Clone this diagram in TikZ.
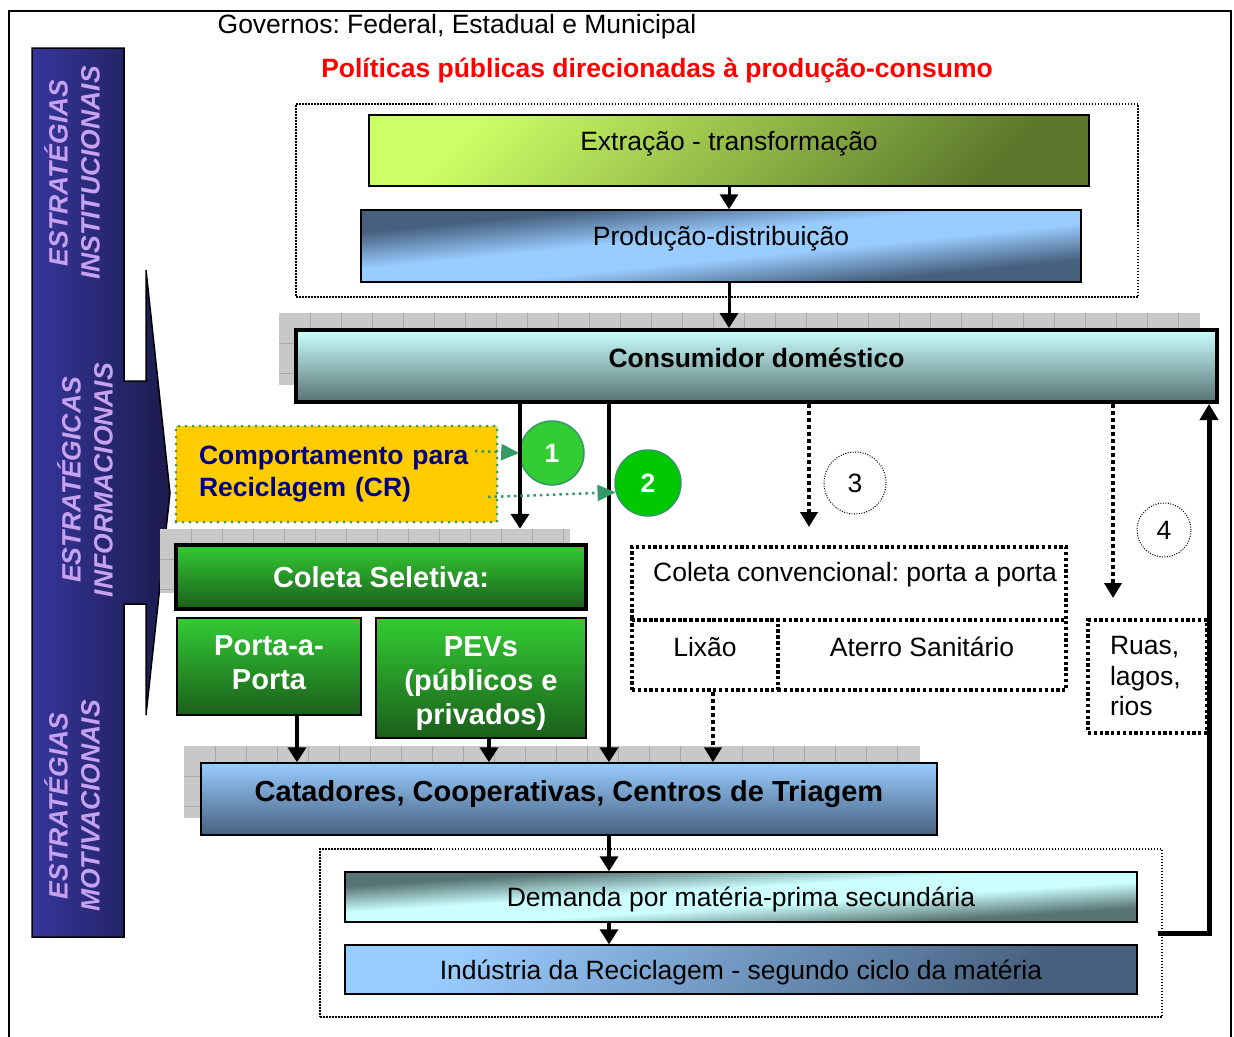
\documentclass[tikz,border=0pt]{standalone}
\usepackage{fontspec}
\setmainfont{Liberation Sans}
\usetikzlibrary{arrows.meta}
\frenchspacing

\definecolor{barLeft}{HTML}{36369C}
\definecolor{barRight}{HTML}{1B1B4C}
\definecolor{barText}{HTML}{C8A2F2}
\definecolor{limeLight}{HTML}{CCFF66}
\definecolor{limeDark}{HTML}{5C782C}
\definecolor{skyLight}{HTML}{99CCFF}
\definecolor{skyDark}{HTML}{47607E}
\definecolor{aquaLight}{HTML}{CCFFFF}
\definecolor{aquaDark}{HTML}{587373}
\definecolor{leafLight}{HTML}{33CC33}
\definecolor{leafDark}{HTML}{1B5E1B}
\definecolor{amber}{HTML}{FFCC00}
\definecolor{seaGreen}{HTML}{339966}
\definecolor{navyText}{HTML}{000080}
\definecolor{shadowFill}{HTML}{C8C8C8}
\definecolor{shadowLine}{HTML}{A8A8A8}
\definecolor{greenOne}{HTML}{33CC33}
\definecolor{greenTwo}{HTML}{00C800}

% dark corners with a broad light band between them
\pgfdeclareverticalshading{skyband}{100bp}{color(0bp)=(skyDark); color(31bp)=(skyDark);
  color(45bp)=(skyLight); color(55bp)=(skyLight); color(69bp)=(skyDark); color(100bp)=(skyDark)}
\pgfdeclareverticalshading{aquaband}{100bp}{color(0bp)=(aquaDark); color(31bp)=(aquaDark);
  color(45bp)=(aquaLight); color(55bp)=(aquaLight); color(69bp)=(aquaDark); color(100bp)=(aquaDark)}

\newcommand\regfont{\fontsize{26.5pt}{32pt}\selectfont}
\newcommand\bigbold{\fontsize{29pt}{34pt}\selectfont\bfseries}

\begin{document}
\begin{tikzpicture}[x=1pt,y=-1pt,
  every node/.style={font=\regfont, inner sep=2pt},
  panel/.style={draw=black, line width=1.4pt},
  thickpanel/.style={draw=black, line width=4pt},
  capline/.style={text height=19pt, text depth=#1},
  capline/.default=0pt,
  capbig/.style={text height=21pt, text depth=#1},
  capbig/.default=0pt,
  shadowbox/.style={fill=shadowFill, inner sep=0pt,
    path picture={
      \foreach \k in {1,...,40}
        \draw[shadowLine, line width=0.8pt]
          ([xshift={\k*31pt}]path picture bounding box.north west) --
          ([xshift={\k*31pt}]path picture bounding box.south west);
      \foreach \k in {1,2,3}
        \draw[shadowLine, line width=0.8pt]
          ([yshift={-\k*30pt}]path picture bounding box.north west) --
          ([yshift={-\k*30pt}]path picture bounding box.north east);
    }},
  conn/.style={line width=4pt, -{Triangle[width=18pt,length=15pt]}},
  dotconn/.style={line width=4pt, dash pattern=on 4pt off 3pt,
    -{Triangle[width=17pt,length=15pt]}},
  hintarrow/.style={seaGreen, line width=2.5pt, dash pattern=on 2.5pt off 4pt,
    -{Triangle[width=16pt,length=18pt]}},
  finebox/.style={draw=black, line width=1.5pt, dash pattern=on 1.5pt off 1.5pt},
  heavybox/.style={draw=black, line width=3.2pt, dash pattern=on 3.2pt off 2.6pt},
  sidelabel/.style={rotate=90, align=center, text=barText,
    font=\regfont\bfseries\itshape},
  numdisc/.style={circle, line width=1.5pt, draw=seaGreen, text=white,
    font=\regfont\bfseries, inner sep=0pt},
  numring/.style={circle, draw=black, line width=1pt,
    dash pattern=on 1pt off 1.5pt, inner sep=0pt}
]
\useasboundingbox (0,0) rectangle (1234,1036);

% outer frame
\draw[line width=1.5pt] (9,11) rectangle (1231,1070);

% strategy bar with its right-pointing block arrow
\draw[line width=1.5pt, left color=barLeft, right color=barRight]
  (32,48) -- (124,48) -- (124,381) -- (146,381) -- (146,270) -- (170,493)
  -- (146,715) -- (146,604) -- (124,604) -- (124,937) -- (32,937) -- cycle;
\node[sidelabel] (sl1) at (72,173) {ESTRATÉGIAS\\INSTITUCIONAIS};
\node[sidelabel] (sl2) at (85,480) {ESTRATÉGICAS\\INFORMACIONAIS};
\node[sidelabel] (sl3) at (72,806) {ESTRATÉGIAS\\MOTIVACIONAIS};

% headings
\node[capline] (gov) at (457,24) {Governos: Federal, Estadual e Municipal};
\node[capline, text=red, font=\regfont\bfseries] (pol) at (657,68)
  {Políticas públicas direcionadas à produção-consumo};

% production chain
\node[finebox, minimum width=842pt, minimum height=193pt] (upper) at (717,200.5) {};
\node[panel, minimum width=720pt, minimum height=71pt,
  top color=limeLight, bottom color=limeDark, shading angle=45, capline=20pt]
  (ext) at (729,150.5) {Extração - transformação};
\node[panel, shade, shading=skyband, shading angle=5.7,
  minimum width=720pt, minimum height=72pt, capline=20pt]
  (prod) at (721,246) {Produção-distribuição};

% household consumer
\node[shadowbox, minimum width=921pt, minimum height=72pt] (consShade) at (739.5,349) {};
\node[thickpanel, minimum width=921pt, minimum height=72pt,
  top color=aquaLight, bottom color=aquaDark, capline=16pt,
  font=\regfont\bfseries] (cons) at (756.5,366) {Consumidor doméstico};

% recycling behaviour
\node[draw=seaGreen, line width=3pt, dash pattern=on 0pt off 7pt, line cap=round,
  fill=amber, minimum height=96pt, text width=275pt, align=left,
  inner xsep=23pt, text=navyText, font=\regfont\bfseries]
  (crb) at (336.5,474) {Comportamento para\\Reciclagem (CR)};

% selective collection
\node[shadowbox, minimum width=410pt, minimum height=64pt] (csShade) at (365,561) {};
\node[thickpanel, minimum width=410pt, minimum height=64pt,
  top color=leafLight, bottom color=leafDark, text=white, font=\bigbold, capbig]
  (cs) at (381,577) {Coleta Seletiva:};
\node[panel, minimum width=184pt, minimum height=97pt,
  top color=leafLight, bottom color=leafDark,
  label={[align=center, text=white, font=\bigbold, yshift=4pt]center:Porta-a-\\Porta}]
  (pp) at (269,666.5) {};
\node[panel, minimum width=210pt, minimum height=120pt,
  top color=leafLight, bottom color=leafDark,
  label={[align=center, text=white, font=\bigbold, yshift=-6pt]center:PEVs\\(públicos e\\privados)}]
  (pev) at (481,678) {};

% sorting
\node[shadowbox, minimum width=736pt, minimum height=72pt] (catShade) at (552,782) {};
\node[panel, minimum width=736pt, minimum height=72pt,
  top color=skyLight, bottom color=skyDark, font=\bigbold, capbig=16pt]
  (cat) at (569,799) {Catadores, Cooperativas, Centros de Triagem};

% numbered markers
\node[numdisc, fill=greenOne, minimum size=64pt] (n1) at (552,453) {1};
\node[numdisc, fill=greenTwo, minimum size=66pt] (n2) at (648,483) {2};
\node[numring, minimum size=62pt] (n3) at (855,483) {3};
\node[numring, minimum size=54pt] (n4) at (1164,530) {4};

% conventional collection and disposal
\node[heavybox, minimum width=434pt, minimum height=73pt, capline=24pt]
  (ccv) at (849,583.5) {\hspace{12pt}Coleta convencional: porta a porta};
\node[heavybox, minimum width=146pt, minimum height=70pt, capline=16pt]
  (lix) at (705,655) {Lixão};
\node[heavybox, minimum width=288pt, minimum height=70pt, capline=16pt]
  (ate) at (922,655) {Aterro Sanitário};
\node[heavybox, minimum width=119pt, minimum height=113pt, text width=75pt,
  inner xsep=22pt, align=left, font=\fontsize{26.5pt}{30.5pt}\selectfont]
  (rua) at (1147.5,676.5) {Ruas,\\lagos,\\rios};

% secondary raw material
\node[finebox, minimum width=842pt, minimum height=168pt] (lower) at (741,933) {};
\node[panel, shade, shading=aquaband, shading angle=3.6,
  minimum width=792pt, minimum height=50pt, capline]
  (dem) at (741,897) {Demanda por matéria-prima secundária};
\node[panel, minimum width=792pt, minimum height=49pt,
  top color=skyLight, bottom color=skyDark, shading angle=45, capline]
  (ind) at (741,969.5) {Indústria da Reciclagem - segundo ciclo da matéria};

% connector columns
\coordinate (xa) at (520,0);
\coordinate (xb) at (609,0);
\coordinate (xc) at (809,0);
\coordinate (xd) at (1113,0);
\coordinate (xe) at (713,0);
\coordinate (xf) at (297,0);
\coordinate (xg) at (489,0);
\coordinate (xr) at (1209,0);
\coordinate (e3) at (809,527);
\coordinate (e4) at (1113,598);
\coordinate (h1) at (475,451);
\coordinate (h2) at (488,497);

% connectors
\draw[conn, line width=3pt] (ext.south) -- (ext.south |- prod.north);
\draw[conn, line width=3pt] (ext.south |- prod.south) -- (ext.south |- cons.north);
\draw[conn] (cons.south -| xa) -- (csShade.north -| xa);
\draw[conn] (cons.south -| xb) -- (cat.north -| xb);
\draw[conn] (pp.south -| xf) -- (cat.north -| xf);
\draw[conn] (pev.south -| xg) -- (cat.north -| xg);
\draw[dotconn] (cons.south -| xc) -- (e3);
\draw[dotconn] (cons.south -| xd) -- (e4);
\draw[dotconn] (lix.south -| xe) -- (cat.north -| xe);
\draw[conn, line width=3.5pt] (cat.south -| xb) -- (dem.north -| xb);
\draw[conn, line width=3.5pt] (dem.south -| xb) -- (ind.north -| xb);
\draw[line width=5pt, -{Triangle[width=18pt,length=16pt]}]
  ([xshift=-5pt]lower.east) -- (lower.east -| xr) -- (cons.south -| xr);
\draw[hintarrow] (h1) -- (n1.west);
\draw[hintarrow] (h2) -- (n2.196);
\end{tikzpicture}
\end{document}
